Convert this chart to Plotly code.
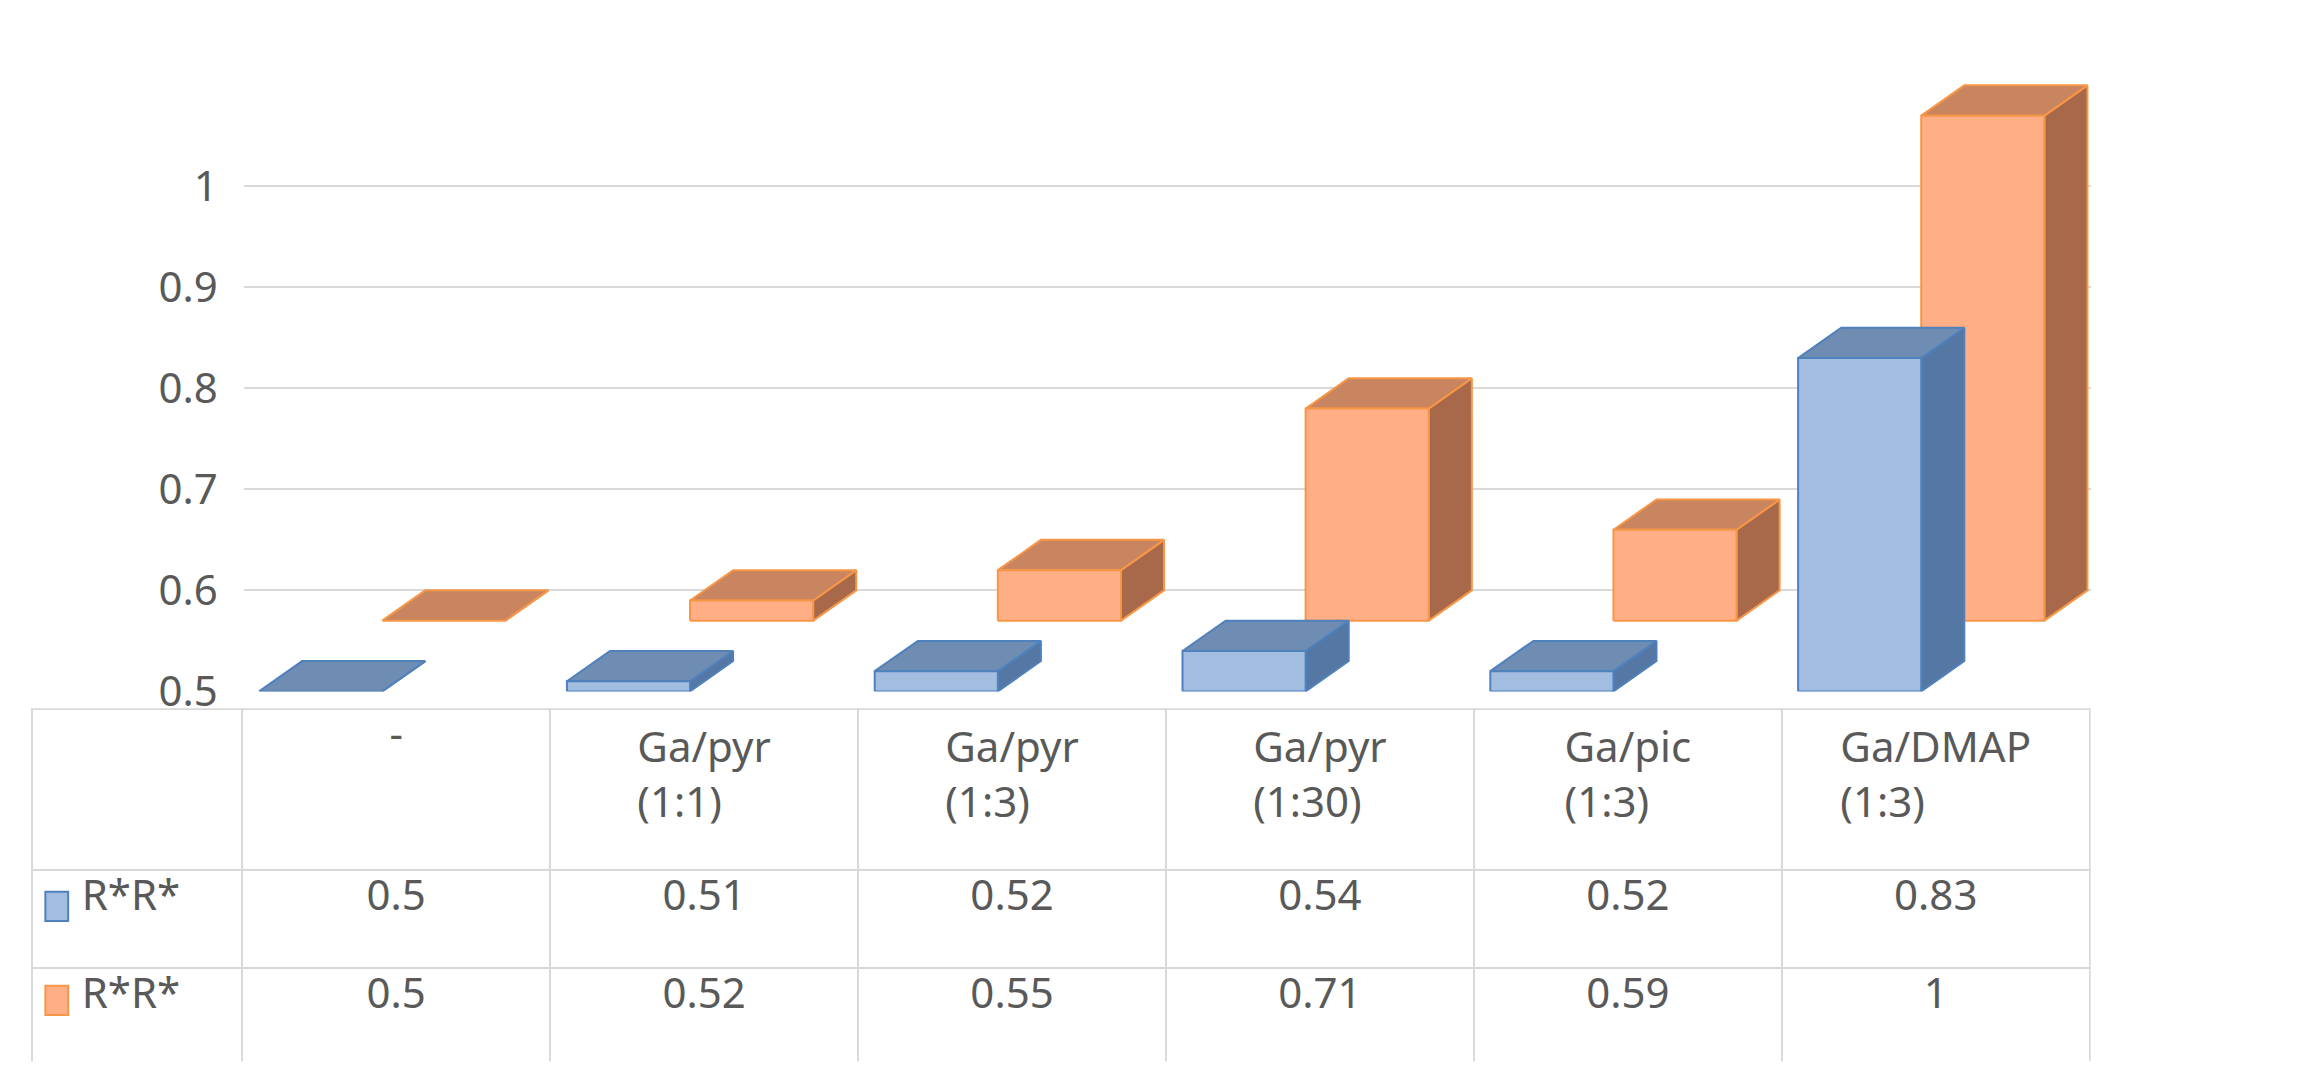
import plotly.graph_objects as go

categories = ["-", "Ga/pyr<br>(1:1)", "Ga/pyr<br>(1:3)", "Ga/pyr<br>(1:30)", "Ga/pic<br>(1:3)", "Ga/DMAP<br>(1:3)"]
series_names = ["R*R*", "R*R*"]
blue_vals = [0.5, 0.51, 0.52, 0.54, 0.52, 0.83]
orange_vals = [0.5, 0.52, 0.55, 0.71, 0.59, 1]
y_ticks = [0.5, 0.6, 0.7, 0.8, 0.9, 1]

BLUE_F, BLUE_T, BLUE_S, BLUE_L = "#a3bde0", "#6f8cb3", "#5577a3", "#4f81bd"
OR_F, OR_T, OR_S, OR_L = "#ffae85", "#c98560", "#a8694a", "#f79646"
FONT = "Noto Sans"
GRAY = "#595959"

fig = go.Figure()
W, DX, DY = 0.4, 0.14, 0.03

def bar3d(x0, base, top, front, topc, side, line):
    fig.add_trace(go.Scatter(x=[x0+W, x0+W+DX, x0+W+DX, x0+W, x0+W], y=[base, base+DY, top+DY, top, base],
                             fill="toself", fillcolor=side, line=dict(color=line, width=2), mode="lines", hoverinfo="skip", showlegend=False))
    fig.add_trace(go.Scatter(x=[x0, x0+DX, x0+W+DX, x0+W, x0], y=[top, top+DY, top+DY, top, top],
                             fill="toself", fillcolor=topc, line=dict(color=line, width=2), mode="lines", hoverinfo="skip", showlegend=False))
    if top > base:
        fig.add_trace(go.Scatter(x=[x0, x0+W, x0+W, x0, x0], y=[base, base, top, top, base],
                                 fill="toself", fillcolor=front, line=dict(color=line, width=2), mode="lines", hoverinfo="skip", showlegend=False))

OFF = 0.07
for i, v in enumerate(orange_vals):
    bar3d(i - 0.05, 0.5 + OFF, v + OFF, OR_F, OR_T, OR_S, OR_L)
for i, v in enumerate(blue_vals):
    bar3d(i - 0.45, 0.5, v, BLUE_F, BLUE_T, BLUE_S, BLUE_L)

fig.update_xaxes(range=[-0.5, 5.5], domain=[0.099, 0.909], showgrid=False, showticklabels=False, zeroline=False, showline=False)
fig.update_yaxes(range=[0.5, 1.146], domain=[0.355, 0.98], tickvals=y_ticks, ticktext=[str(t) for t in y_ticks],
                 showgrid=True, gridcolor="#d9d9d9", gridwidth=2, zeroline=False, showline=False,
                 tickfont=dict(family=FONT, size=42, color=GRAY), ticks="", ticklabelstandoff=25)

header_vals = [""] + categories
cells = [["\u2003R*R*", "\u2003R*R*"]] + [[str(b), str(o)] for b, o in zip(blue_vals, orange_vals)]
fig.add_trace(go.Table(
    domain=dict(x=[0.006, 0.909], y=[0.0, 0.338]),
    columnwidth=[145] + [212]*6,
    header=dict(values=header_vals, fill_color="white", line=dict(color="#d9d9d9", width=2),
                font=dict(family=FONT, size=42, color=GRAY), height=161, align="center"),
    cells=dict(values=cells, fill_color="white", line=dict(color="#d9d9d9", width=2),
               font=dict(family=FONT, size=42, color=GRAY), height=98, align=["left"] + ["center"]*6)))

for k, (f, l) in enumerate([(BLUE_F, BLUE_L), (OR_F, OR_L)]):
    yc = 0.149 - k*0.09
    fig.add_shape(type="rect", xref="paper", yref="paper", x0=0.012, x1=0.022, y0=yc-0.014, y1=yc+0.014,
                  fillcolor=f, line=dict(color=l, width=2))

fig.update_layout(width=2300, height=1091, paper_bgcolor="white", plot_bgcolor="white",
                  margin=dict(l=10, r=10, t=10, b=10), showlegend=False)
fig.write_html("out.html")
